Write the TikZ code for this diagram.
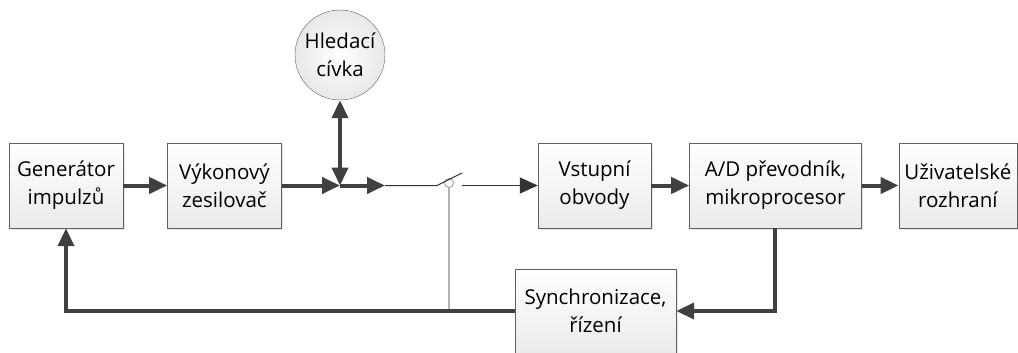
\documentclass[tikz,border=0pt]{standalone}
\usepackage{fontspec}
\setmainfont{Open Sans}
\usetikzlibrary{positioning,arrows.meta,shadows}

\begin{document}
\begin{tikzpicture}[x=1pt, y=-1pt, font=\fontsize{20.5}{28}\selectfont,
    blok/.style = {draw=gray!75!black, top color=white, bottom color=gray!16, minimum height=85pt, inner sep=0pt, align=center, drop shadow={shadow xshift=1.5pt, shadow yshift=-1.5pt, opacity=0.2}},
    civka/.style = {draw=gray!75!black, circle, inner color=white, outer color=gray!18, minimum size=90pt, inner sep=0pt, align=center},
    silna/.style = {line width=4pt, draw=black!75, -{Triangle[length=18pt,width=16pt]}},
    tenka/.style = {line width=1pt, draw=black!80},
    seda/.style = {line width=1.5pt, draw=gray!60}]
    \useasboundingbox (0,0) rectangle (1018,353);
    % horni rada
    \node[blok, minimum width=114pt] (gen) at (66,185.5) {Generátor\\impulzů};
    \node[blok, minimum width=114pt, right=44pt of gen] (zes) {Výkonový\\zesilovač};
    \node[civka] (civ) at (340,55) {Hledací\\cívka};
    \coordinate (uzel) at (340,185.5);
    \coordinate (za) at (385,185.5);
    \coordinate (spH) at (462,173);
    \coordinate (spP) at (462,185.5);
    \node[circle, draw=gray!70, fill=white, line width=1pt, inner sep=0pt, minimum size=9pt] (sp) at (449,183) {};
    \node[blok, minimum width=113pt] (vst) at (594.5,185.5) {Vstupní\\obvody};
    \node[blok, minimum width=172pt, right=38pt of vst] (ad) {A/D převodník,\\mikroprocesor};
    \node[blok, minimum width=118pt, right=37pt of ad] (uziv) {Uživatelské\\rozhraní};
    % dolni rada
    \node[blok, minimum width=161pt, minimum height=84pt] (sync) at (595.5,311) {Synchronizace,\\řízení};
    % spoje
    \draw[silna] (gen) -- (zes);
    \draw[silna] (zes) -- (uzel);
    \draw[silna, {Triangle[length=18pt,width=16pt]}-{Triangle[length=18pt,width=16pt]}] (civ) -- (uzel);
    \draw[silna] (uzel) -- (za);
    \draw[tenka] (za) -- (437,185.5) -- (spH);
    \draw[seda] (sp.south) -- (sp.south |- sync.west);
    \draw[tenka, -{Triangle[length=18pt,width=16pt]}, fill=black!75] (spP) -- (vst.west);
    \draw[silna] (vst) -- (ad);
    \draw[silna] (ad) -- (uziv);
    \draw[silna] (ad.south) |- (sync.east);
    \draw[silna] (sync.west) -| (gen.south);
\end{tikzpicture}
\end{document}
